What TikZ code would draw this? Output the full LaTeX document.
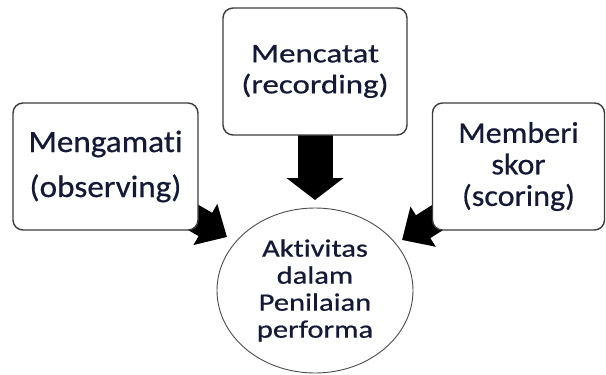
\documentclass[tikz,border=0pt]{standalone}
\usepackage{fontspec}
\newfontfamily\fontside[FakeStretch=1.07,FakeBold=0.6,Ligatures=NoCommon]{Carlito}
\newfontfamily\fonttop[FakeStretch=1.22,FakeBold=0.6,Ligatures=NoCommon]{Carlito}
\usetikzlibrary{arrows.meta,backgrounds,shapes.geometric}
\definecolor{txt}{RGB}{20,25,55}
\definecolor{edge}{RGB}{60,60,60}
\tikzset{
  box/.style={draw=edge, line width=1.4pt, fill=white, rounded corners=10pt,
    align=center, text=txt, inner sep=0pt},
  fatarrow/.style={draw=black},
}
\begin{document}
\begin{tikzpicture}[x=1pt,y=-1pt]
\useasboundingbox (0,0) rectangle (606,375);
\node[box, minimum width=185pt, minimum height=127pt,
  font=\fontside\fontsize{31pt}{45pt}\selectfont] (l) at (105.5,166.5) {Mengamati\\(observing)};
\node[box, minimum width=184pt, minimum height=127pt,
  font=\fonttop\fontsize{27pt}{31pt}\selectfont] (t) at (315,71.5) {Mencatat\\(recording)};
\node[box, minimum width=172pt, minimum height=127pt,
  font=\fontside\fontsize{30pt}{31.5pt}\selectfont] (r) at (518.5,166.5) {Memberi\\skor\\(scoring)};
\node[ellipse, draw=black!70, line width=0.9pt, fill=white, minimum width=196pt,
  minimum height=165pt, inner sep=0pt, align=center, text=txt,
  font=\fonttop\fontsize{25pt}{27pt}\selectfont] (c) at (315,290.5)
  {Aktivitas\\dalam\\Penilaian\\performa};
\coordinate (lt) at (227,237);
\coordinate (tt) at (315,200);
\coordinate (rt) at (402,240);
\begin{pgfonlayer}{background}
\draw[fatarrow, line width=27pt, -{Triangle[width=46pt,length=25pt]}] (l.center) -- (lt);
\draw[fatarrow, line width=35pt, -{Triangle[width=56pt,length=22pt]}] (t.center) -- (tt);
\draw[fatarrow, line width=27pt, -{Triangle[width=46pt,length=25pt]}] (r.center) -- (rt);
\end{pgfonlayer}
\end{tikzpicture}
\end{document}
